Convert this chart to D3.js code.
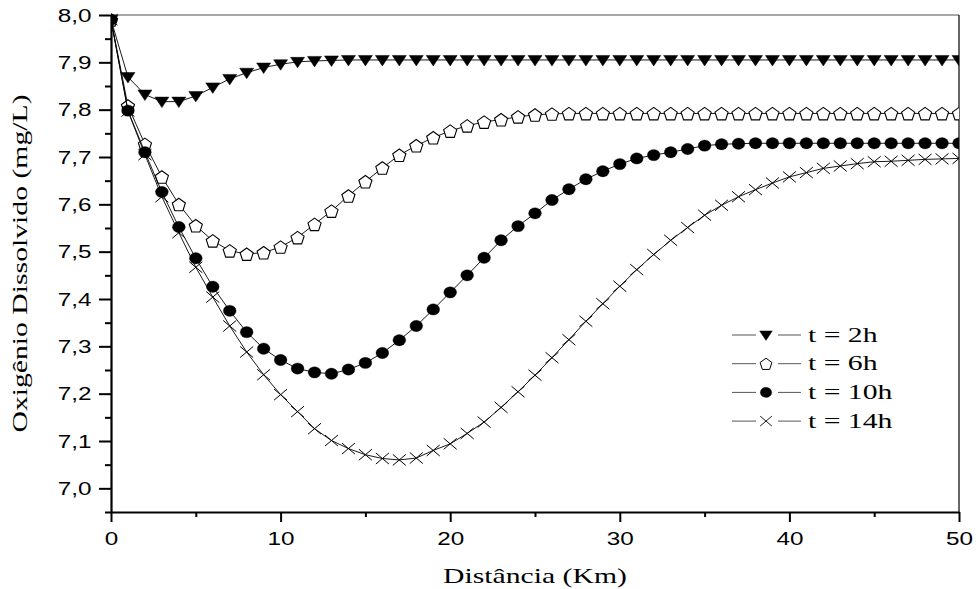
<!DOCTYPE html>
<html><head><meta charset="utf-8">
<script src="https://cdn.jsdelivr.net/npm/d3@7"></script>
<style>body{margin:0;background:#fff}</style>
</head><body><svg id="c" width="978" height="589"></svg>
<script>
// ---- data ----
const distance = [0,1,2,3,4,5,6,7,8,9,10,11,12,13,14,15,16,17,18,19,20,21,22,23,24,25,26,27,28,29,30,31,32,33,34,35,36,37,38,39,40,41,42,43,44,45,46,47,48,49,50];
const t2h = [7.99,7.869,7.832,7.817,7.817,7.829,7.847,7.865,7.878,7.889,7.896,7.901,7.903,7.904,7.905,7.905,7.905,7.905,7.905,7.905,7.905,7.905,7.905,7.905,7.905,7.905,7.905,7.905,7.905,7.905,7.905,7.905,7.905,7.905,7.905,7.905,7.905,7.905,7.905,7.905,7.905,7.905,7.905,7.905,7.905,7.905,7.905,7.905,7.905,7.905,7.905];
const t6h = [7.99,7.808,7.727,7.658,7.600,7.555,7.523,7.502,7.495,7.498,7.510,7.530,7.558,7.586,7.618,7.648,7.677,7.704,7.724,7.741,7.755,7.766,7.774,7.779,7.785,7.789,7.791,7.792,7.792,7.792,7.792,7.792,7.792,7.792,7.792,7.792,7.792,7.792,7.792,7.792,7.792,7.792,7.792,7.792,7.792,7.792,7.792,7.792,7.792,7.792,7.792];
const t10h = [7.99,7.798,7.710,7.626,7.552,7.486,7.426,7.375,7.330,7.295,7.271,7.253,7.245,7.242,7.251,7.265,7.286,7.313,7.343,7.378,7.414,7.450,7.487,7.524,7.554,7.581,7.609,7.632,7.653,7.670,7.685,7.697,7.704,7.710,7.717,7.724,7.727,7.728,7.729,7.729,7.729,7.729,7.729,7.729,7.729,7.729,7.729,7.729,7.729,7.729,7.729];
const t14h = [7.99,7.797,7.705,7.616,7.540,7.467,7.404,7.343,7.288,7.240,7.198,7.162,7.126,7.101,7.084,7.071,7.063,7.060,7.064,7.080,7.094,7.116,7.140,7.171,7.204,7.239,7.276,7.314,7.353,7.390,7.427,7.462,7.494,7.524,7.551,7.577,7.598,7.616,7.631,7.645,7.658,7.667,7.676,7.681,7.686,7.690,7.691,7.693,7.695,7.696,7.697];
const seriesNames = ["t = 2h","t = 6h","t = 10h","t = 14h"];
const xTicks = [0,10,20,30,40,50];
const xMinorTicks = [5,15,25,35,45];
const yTicks = [7.0,7.1,7.2,7.3,7.4,7.5,7.6,7.7,7.8,7.9,8.0];
const yMinorTicks = [6.95,7.05,7.15,7.25,7.35,7.45,7.55,7.65,7.75,7.85,7.95];
const xTitle = "Distância (Km)";
const yTitle = "Oxigênio Dissolvido (mg/L)";

// ---- layout ----
const L=111, T=15, R=959, B=512, SX=1.35;
const svg = d3.select("#c");
const x = d3.scaleLinear().domain([0,50]).range([L,R]);
const y = d3.scaleLinear().domain([6.95,8.0]).range([B,T]);
const fmt = v => d3.format(".1f")(v).replace(".",",");
const sans = "'Liberation Sans', Arial, sans-serif";
const serif = "'Liberation Serif', 'Times New Roman', serif";

svg.append("defs").append("clipPath").attr("id","clip")
  .append("rect").attr("x",L).attr("y",T-8).attr("width",R-L).attr("height",B-T+8);

// frame top/right
svg.append("line").attr("x1",L).attr("x2",R).attr("y1",T).attr("y2",T)
  .attr("stroke","#8a8a8a").attr("stroke-width",1.6);
svg.append("line").attr("x1",R).attr("x2",R).attr("y1",T).attr("y2",B)
  .attr("stroke","#000").attr("stroke-width",1.2);

// x axis
const gx = svg.append("g").attr("transform",`translate(0,${B})`)
  .call(d3.axisBottom(x).tickValues(xTicks).tickSize(10).tickSizeOuter(0));
gx.select(".domain").attr("stroke-width",2.2);
gx.selectAll(".tick line").attr("stroke-width",2);
gx.selectAll(".tick text").attr("y",33).attr("dy",0).attr("x",0)
  .attr("transform",`scale(${SX},1)`).style("font-family",sans).style("font-size","18px").attr("fill","#000");
const gxm = svg.append("g").attr("transform",`translate(0,${B})`)
  .call(d3.axisBottom(x).tickValues(xMinorTicks).tickSize(5).tickSizeOuter(0).tickFormat(""));
gxm.select(".domain").remove();
gxm.selectAll(".tick line").attr("stroke-width",2);

// y axis
const gy = svg.append("g").attr("transform",`translate(${L},0)`)
  .call(d3.axisLeft(y).tickValues(yTicks).tickSize(12).tickSizeOuter(0).tickFormat(fmt));
gy.select(".domain").attr("stroke-width",2.2);
gy.selectAll(".tick line").attr("stroke-width",2);
gy.selectAll(".tick text").attr("x",-19.5/SX).attr("dy",0).attr("y",6.3)
  .attr("transform",`scale(${SX},1)`).style("font-family",sans).style("font-size","18px").attr("fill","#000");
const gym = svg.append("g").attr("transform",`translate(${L},0)`)
  .call(d3.axisLeft(y).tickValues(yMinorTicks).tickSize(6).tickSizeOuter(0).tickFormat(""));
gym.select(".domain").remove();
gym.selectAll(".tick line").attr("stroke-width",2);
svg.selectAll(".domain").attr("stroke","#000");

// titles
svg.append("text").attr("transform",`translate(${(L+R)/2},583) scale(${SX},1)`)
  .attr("text-anchor","middle").style("font-family",serif).style("font-size","22px").text(xTitle);
svg.append("text").attr("transform",`translate(27,${(T+B)/2}) rotate(-90) scale(${SX},1)`)
  .attr("text-anchor","middle").style("font-family",serif).style("font-size","22px").text(yTitle);

// markers
function pentagon(r){
  const pts=[]; for(let k=0;k<5;k++){const a=(-90+72*k)*Math.PI/180; pts.push([r*Math.cos(a), r*Math.sin(a)+0.8]);}
  return "M"+pts.map(p=>p[0].toFixed(2)+","+p[1].toFixed(2)).join("L")+"Z";
}
const markers = {
  tri:   {d:"M-7,-4.5L7,-4.5L0,6Z", fill:"#000", stroke:"#000", sw:0.5},
  pent:  {d:pentagon(6.9), fill:"#fff", stroke:"#000", sw:1.1},
  circ:  {d:"M-6.4,0A6.4,5.7 0 1,0 6.4,0A6.4,5.7 0 1,0 -6.4,0Z", fill:"#000", stroke:"#000", sw:0.3},
  cross: {d:"M-6.5,-5.5L6.5,5.5M-6.5,5.5L6.5,-5.5", fill:"none", stroke:"#000", sw:1}
};
const series = [
  {name:seriesNames[0], vals:t2h,  m:"tri"},
  {name:seriesNames[1], vals:t6h,  m:"pent"},
  {name:seriesNames[2], vals:t10h, m:"circ"},
  {name:seriesNames[3], vals:t14h, m:"cross"}
];
const drawOrder = [1,2,3,0];
const plot = svg.append("g").attr("clip-path","url(#clip)");
const line = d3.line().x((d,i)=>x(distance[i])).y(d=>y(d));
drawOrder.forEach(si=>{
  const s=series[si], mk=markers[s.m];
  const g=plot.append("g");
  g.append("path").attr("d",line(s.vals)).attr("fill","none").attr("stroke","#000").attr("stroke-width",0.9);
  g.selectAll("path.mk").data(s.vals).join("path").attr("class","mk")
    .attr("transform",(d,i)=>`translate(${x(distance[i])},${y(d)})`)
    .attr("d",mk.d).attr("fill",mk.fill).attr("stroke",mk.stroke).attr("stroke-width",mk.sw);
});

// legend
const lg = svg.append("g");
series.forEach((s,i)=>{
  const cy = 335 + i*28.7, mk=markers[s.m];
  lg.append("line").attr("x1",732).attr("x2",756).attr("y1",cy).attr("y2",cy).attr("stroke","#555").attr("stroke-width",1);
  lg.append("line").attr("x1",778).attr("x2",801).attr("y1",cy).attr("y2",cy).attr("stroke","#555").attr("stroke-width",1);
  lg.append("path").attr("transform",`translate(766,${cy}) scale(0.9)`).attr("d",mk.d)
    .attr("fill",mk.fill).attr("stroke",mk.stroke).attr("stroke-width",mk.sw);
  lg.append("text").attr("transform",`translate(808,${cy+6.5}) scale(${SX},1)`)
    .style("font-family",serif).style("font-size","22px").text(s.name);
});
</script></body></html>
